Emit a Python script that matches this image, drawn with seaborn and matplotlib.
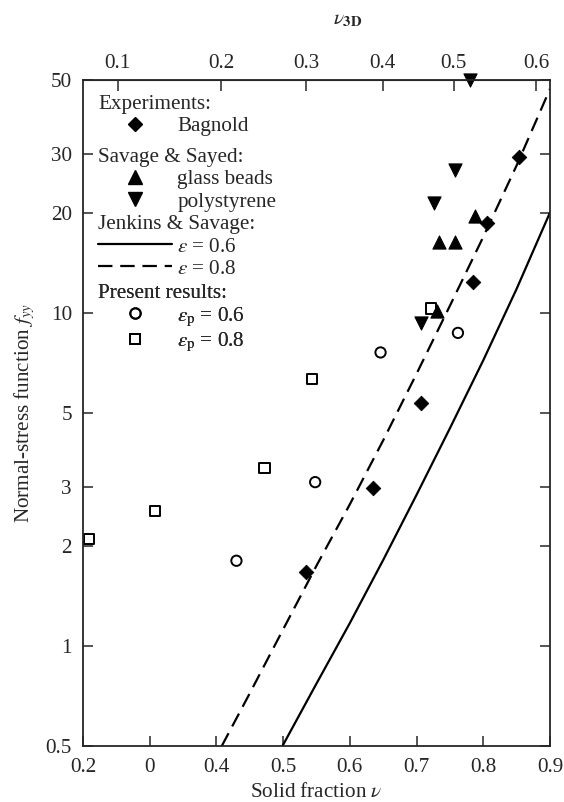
import numpy as np
import pandas as pd
import seaborn as sns
import matplotlib
matplotlib.use('Agg')  # no display in the sandbox
import matplotlib.pyplot as plt
from matplotlib.lines import Line2D

# experiments: Bagnold
bagnold_nu = [0.534, 0.634, 0.707, 0.785, 0.806, 0.854]
bagnold_f = [1.66, 2.98, 5.36, 12.4, 18.6, 29.4]
# Savage & Sayed, glass beads / polystyrene
glass_nu = [0.730, 0.733, 0.757, 0.787]
glass_f = [10.1, 16.3, 16.3, 19.5]
poly_nu = [0.707, 0.726, 0.757, 0.780]
poly_f = [9.3, 21.4, 26.8, 50.0]
# present results
circ_nu = [0.430, 0.548, 0.646, 0.762]   # eps_p = 0.6
circ_f = [1.80, 3.10, 7.6, 8.7]
sq_nu = [0.209, 0.308, 0.472, 0.543, 0.722]   # eps_p = 0.8
sq_f = [2.09, 2.54, 3.42, 6.33, 10.3]
# Jenkins & Savage theory curves
js06_nu = [0.499, 0.55, 0.60, 0.65, 0.70, 0.75, 0.80, 0.85, 0.90]
js06_f = [0.50, 0.77, 1.17, 1.81, 2.84, 4.5, 7.2, 11.8, 20.0]
js08_nu = [0.408, 0.45, 0.50, 0.55, 0.60, 0.65, 0.70, 0.75, 0.80, 0.85, 0.90]
js08_f = [0.50, 0.72, 1.12, 1.74, 2.66, 4.14, 6.56, 10.5, 16.9, 27.7, 47.0]

# axis ticks
x_ticks = [0.2, 0.3, 0.4, 0.5, 0.6, 0.7, 0.8, 0.9]
x_ticklabels = ['0.2', '0', '0.4', '0.5', '0.6', '0.7', '0.8', '0.9']
y_ticks = [0.5, 1, 2, 3, 5, 10, 20, 30, 50]
y_ticklabels = ['0.5', '1', '2', '3', '5', '10', '20', '30', '50']
nu3d_pos = [0.252, 0.407, 0.535, 0.649, 0.756, 0.879]  # where nu_3D ticks sit on the nu scale
nu3d_labels = ['0.1', '0.2', '0.3', '0.4', '0.5', '0.6']

sns.set_style('ticks')
plt.rcParams['font.family'] = ['Liberation Serif', 'DejaVu Serif']
plt.rcParams['mathtext.fontset'] = 'stix'
plt.rcParams['font.size'] = 15.2

fig = plt.figure(figsize=(5.64, 8.02), dpi=100)
ax = fig.add_axes([83 / 564, 56 / 802, 467 / 564, 666 / 802])

# theory lines
sns.lineplot(x=js06_nu, y=js06_f, ax=ax, color='black', linewidth=1.6, sort=False)
sns.lineplot(x=js08_nu, y=js08_f, ax=ax, color='black', linewidth=1.6, sort=False)
ax.lines[-1].set_dashes([6.5, 3.5])

# data points
sns.scatterplot(x=bagnold_nu, y=bagnold_f, ax=ax, marker='D', s=55, color='black', edgecolor='black')
sns.scatterplot(x=glass_nu, y=glass_f, ax=ax, marker='^', s=90, color='black', edgecolor='black')
sns.scatterplot(x=poly_nu, y=poly_f, ax=ax, marker='v', s=90, color='black', edgecolor='black')
sns.scatterplot(x=circ_nu, y=circ_f, ax=ax, marker='o', s=55, color='black',
                facecolor='none', edgecolor='black', linewidth=1.4)
sns.scatterplot(x=sq_nu, y=sq_f, ax=ax, marker='s', s=55, color='black',
                facecolor='none', edgecolor='black', linewidth=1.4)
for coll in ax.collections:
    coll.set_clip_on(False)  # markers on the frame are not cut

ax.set_yscale('log')
ax.set_xlim(0.2, 0.9)
ax.set_ylim(0.5, 50)
ax.set_xticks(x_ticks, x_ticklabels)
ax.set_yticks(y_ticks, y_ticklabels)
ax.yaxis.set_minor_locator(matplotlib.ticker.NullLocator())
ax.tick_params(direction='in', length=7, width=1.1, right=True, pad=8)
ax.tick_params(axis='x', pad=9)
for sp in ax.spines.values():
    sp.set_linewidth(1.3)
    sp.set_visible(True)

ax.set_xlabel(r'Solid fraction $\nu$', labelpad=4)
ax.set_ylabel(r'Normal-stress function $f_{yy}$', labelpad=6)

# top axis: equivalent 3D solid fraction
top = ax.secondary_xaxis('top')
top.set_xticks(nu3d_pos, nu3d_labels)
top.tick_params(direction='in', length=8, width=1.1, pad=5)
fig.text(348 / 564, 1 - 20 / 802, r'$\nu_{\mathbf{3D}}$', ha='center', va='center', fontsize=15.2)

# legend in four groups, each with a left aligned heading
groups = [
    ('Experiments:', 0.978,
     [Line2D([], [], marker='D', color='black', ls='none', markersize=7.2)],
     ['Bagnold']),
    ('Savage & Sayed:', 0.898,
     [Line2D([], [], marker='^', color='black', ls='none', markersize=9.5),
      Line2D([], [], marker='v', color='black', ls='none', markersize=9.5)],
     ['glass beads', 'polystyrene']),
    ('Jenkins & Savage:', 0.797,
     [Line2D([], [], color='black', lw=1.6),
      Line2D([], [], color='black', lw=1.6, dashes=[6.5, 3.5])],
     [r'$\epsilon$ = 0.6', r'$\epsilon$ = 0.8']),
    ('Present results:', 0.694,
     [Line2D([], [], marker='o', color='black', mfc='none', mew=1.4, ls='none', markersize=7.5),
      Line2D([], [], marker='s', color='black', mfc='none', mew=1.4, ls='none', markersize=7.5)],
     [r'$\epsilon_{\mathrm{p}}$ = 0.6', r'$\epsilon_{\mathrm{p}}$ = 0.8']),
]
for title, ytop, handles, labels in groups:
    leg = ax.legend(handles, labels, title=title, loc='upper left', bbox_to_anchor=(0.032, ytop),
                    frameon=False, borderpad=0, borderaxespad=0, handlelength=3.5,
                    handletextpad=0.25, labelspacing=0.12, alignment='left',
                    fontsize=15.2, title_fontsize=15.2)
    ax.add_artist(leg)

plt.savefig('out.png', dpi=100)
plt.close(fig)
